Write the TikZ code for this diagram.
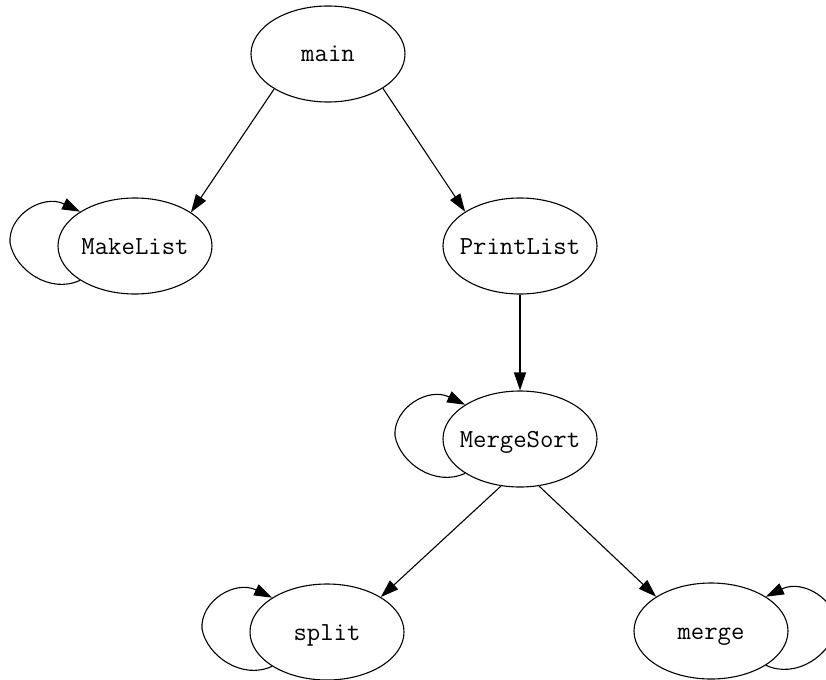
\documentclass[tikz,border=0pt]{standalone}
\usepackage{fontspec}
\usetikzlibrary{arrows.meta,shapes.geometric,calc}
\begin{document}
\begin{tikzpicture}[x=1pt,y=-1pt,
  fn/.style={draw, ellipse, line width=1.1pt, minimum width=154pt, minimum height=96pt,
    inner sep=0pt, text height=16pt, text depth=0pt, font=\fontsize{26}{30}\selectfont\ttfamily},
  edge/.style={line width=1.1pt, -{Triangle[length=18pt,width=12pt]}}]
\fill[white] (0,0) rectangle (826,679);
\useasboundingbox (0,0) rectangle (826,679);
\node[fn] (main) at (328,54) {\makebox[0pt]{main}};
\node[fn] (MakeList) at (135,246) {\makebox[0pt]{MakeList}};
\node[fn] (PrintList) at (520,246) {\makebox[0pt]{PrintList}};
\node[fn] (MergeSort) at (520,439) {\makebox[0pt]{MergeSort}};
\node[fn] (split) at (327,632) {\makebox[0pt]{split}};
\node[fn] (merge) at (711,631) {\makebox[0pt]{merge}};
\draw[edge] (main.213) -- (MakeList.31);
\draw[edge] (main.328) -- (PrintList.148);
\draw[edge] (PrintList.south) -- (MergeSort.north);
\draw[edge] (MergeSort.248) -- (split.33);
\draw[edge] (MergeSort.292) -- (merge.148);
\foreach \n in {MakeList,MergeSort,split}{
  \draw[edge] (\n.212) .. controls +(-30,14) and +(5,27) .. ($(\n.center)+(-125,-3)$)
      .. controls +(-2,-28) and +(-37,-18) .. (\n.148);
}
\draw[edge] (merge.328) .. controls +(30,14) and +(-5,27) .. ($(merge.center)+(125,-3)$)
      .. controls +(2,-28) and +(37,-18) .. (merge.32);
\end{tikzpicture}
\end{document}
